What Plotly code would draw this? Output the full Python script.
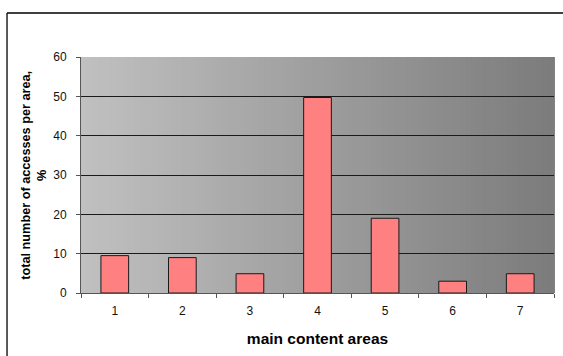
import plotly.graph_objects as go

# Share of all accesses that went to each main content area
areas = ["1", "2", "3", "4", "5", "6", "7"]
access_share = [9.5, 9.0, 4.9, 49.7, 19.0, 3.0, 4.9]
y_ticks = [0, 10, 20, 30, 40, 50, 60]

FONT = "Liberation Sans, Arial, sans-serif"

fig = go.Figure()
fig.add_trace(go.Bar(
    x=areas,
    y=access_share,
    marker=dict(color="#FF8080", line=dict(color="#1a1a1a", width=1)),
    showlegend=False,
))

# Horizontal grey gradient behind the bars, built from thin vertical strips
shapes = []
n_strips = 80
left_rgb, right_rgb = (192, 192, 192), (124, 124, 124)
for i in range(n_strips):
    t = i / (n_strips - 1)
    c = tuple(round(a + (b - a) * t) for a, b in zip(left_rgb, right_rgb))
    shapes.append(dict(
        type="rect", xref="paper", yref="paper",
        x0=i / n_strips, x1=(i + 1) / n_strips + 0.002, y0=0, y1=1,
        fillcolor="rgb(%d,%d,%d)" % c, line=dict(width=0), layer="below",
    ))

# Outer frame around the chart (top and left edges fall inside the page)
frame = dict(color="black", width=1.3)
shapes.append(dict(type="line", xref="paper", yref="paper",
                   x0=-0.1564, x1=1.019, y0=1.1864, y1=1.1864, line=frame))
shapes.append(dict(type="line", xref="paper", yref="paper",
                   x0=-0.1564, x1=-0.1564, y0=-0.267, y1=1.1864, line=frame))

fig.update_layout(
    width=563, height=356,
    margin=dict(l=81, r=9, t=57, b=63),
    paper_bgcolor="white",
    plot_bgcolor="rgba(0,0,0,0)",
    bargap=0.59,
    font=dict(family=FONT, size=12, color="black"),
    shapes=shapes,
    xaxis=dict(
        showgrid=False,
        showline=True, linecolor="#555555", linewidth=1,
        ticks="outside", ticklen=4, tickcolor="#555555",
        tickson="boundaries",
        ticklabelstandoff=7,
        tickfont=dict(family=FONT, size=12, color="#111111"),
        title=dict(text="<b>main content areas</b>",
                   font=dict(family=FONT, size=15.5, color="black"),
                   standoff=15),
    ),
    yaxis=dict(
        range=[0, 60],
        tickvals=y_ticks,
        showgrid=True, gridcolor="#1a1a1a", gridwidth=1,
        showline=True, linecolor="#555555", linewidth=1,
        ticks="outside", ticklen=4, tickcolor="#555555",
        ticklabelstandoff=7,
        tickfont=dict(family=FONT, size=12, color="#111111"),
        zeroline=False,
    ),
    annotations=[dict(
        text="<b>total number of accesses per area,<br>%</b>",
        xref="paper", yref="paper",
        x=-0.1, y=0.5, xanchor="center", yanchor="middle",
        textangle=-90, showarrow=False,
        font=dict(family=FONT, size=12.7, color="black"),
    )],
)

fig.write_html("out.html")
